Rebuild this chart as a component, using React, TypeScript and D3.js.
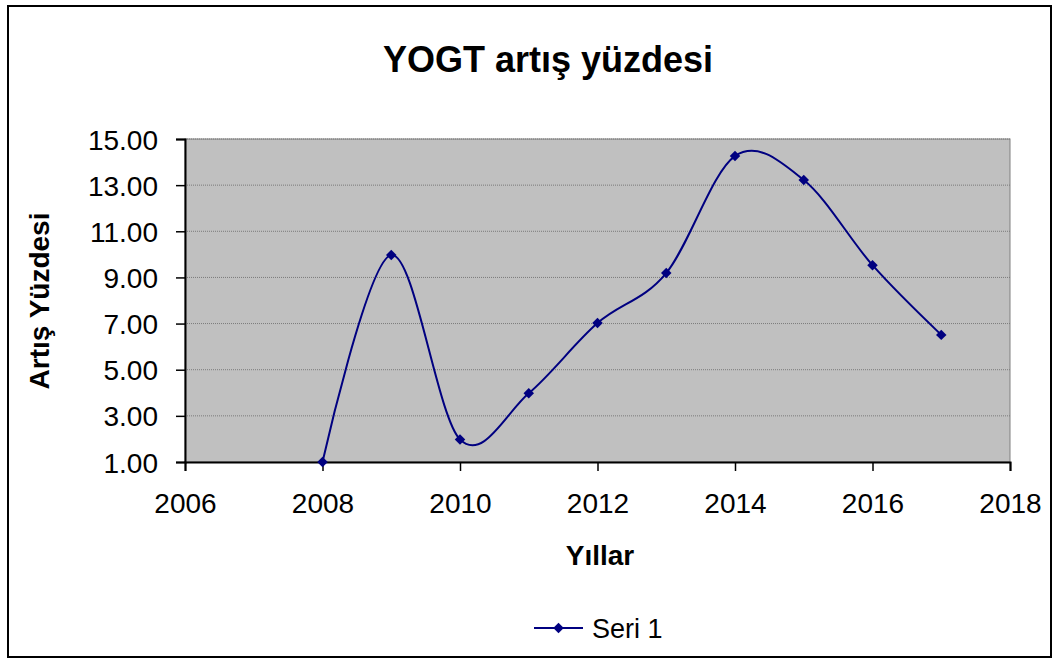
import React, { useEffect, useRef } from "react";
import * as d3 from "d3";

// Values
const years = [2008, 2009, 2010, 2011, 2012, 2013, 2014, 2015, 2016, 2017];
const seri1 = [1.0, 9.97, 1.98, 3.98, 7.02, 9.19, 14.26, 13.22, 9.53, 6.51];
const xTicks = [2006, 2008, 2010, 2012, 2014, 2016, 2018];
const yTicks = [1, 3, 5, 7, 9, 11, 13, 15];
const seriesName = "Seri 1";

const App: React.FC = () => {
  const ref = useRef<SVGSVGElement | null>(null);

  useEffect(() => {
    const svg = d3.select(ref.current);
    svg.selectAll("*").remove();

    const width = 1060,
      height = 660,
      margin = { top: 139, right: 50, bottom: 198, left: 185 };
    const font = "'Liberation Sans', Arial, sans-serif";
    const navy = "#000080";

    // outer frame
    svg
      .append("rect")
      .attr("x", 8)
      .attr("y", 6)
      .attr("width", 1043)
      .attr("height", 651)
      .attr("fill", "#fff")
      .attr("stroke", "#000")
      .attr("stroke-width", 2);

    const x = d3
      .scaleLinear()
      .domain([2006, 2018])
      .range([margin.left, width - margin.right]);

    const y = d3
      .scaleLinear()
      .domain([1, 15])
      .range([height - margin.bottom, margin.top]);

    // plot area
    svg
      .append("rect")
      .attr("x", x(2006))
      .attr("y", y(15))
      .attr("width", x(2018) - x(2006))
      .attr("height", y(1) - y(15))
      .attr("fill", "#c0c0c0")
      .attr("stroke", "#808080")
      .attr("stroke-width", 1);

    // gridlines
    svg
      .append("g")
      .selectAll("line")
      .data(yTicks.slice(1))
      .enter()
      .append("line")
      .attr("x1", x(2006))
      .attr("x2", x(2018))
      .attr("y1", (d) => y(d))
      .attr("y2", (d) => y(d))
      .attr("stroke", "#7a7a7a")
      .attr("stroke-width", 1)
      .attr("stroke-dasharray", "1,1");

    // axes
    const yAxis = svg
      .append("g")
      .attr("transform", `translate(${x(2006)},0)`)
      .call(
        d3
          .axisLeft(y)
          .tickValues(yTicks)
          .tickSize(9)
          .tickPadding(18)
          .tickFormat(d3.format(".2f"))
      );
    const xAxis = svg
      .append("g")
      .attr("transform", `translate(0,${y(1)})`)
      .call(
        d3
          .axisBottom(x)
          .tickValues(xTicks)
          .tickSize(9)
          .tickPadding(22)
          .tickFormat(d3.format("d"))
      );
    [xAxis, yAxis].forEach((g) => {
      g.attr("font-size", null);
      g.selectAll("text")
        .attr("font-family", font)
        .attr("font-size", 28)
        .attr("fill", "#000");
      g.selectAll("line").attr("stroke", "#000").attr("stroke-width", 1.5);
      g.select(".domain").attr("stroke", "#000").attr("stroke-width", 2);
    });
    yAxis.selectAll("text").attr("dy", "0.36em");

    // smoothed line
    const pts: [number, number][] = years.map((yr, i) => [x(yr), y(seri1[i])]);
    const line = d3.line().curve(d3.curveCardinal.tension(0));
    svg
      .append("path")
      .attr("d", line(pts))
      .attr("fill", "none")
      .attr("stroke", navy)
      .attr("stroke-width", 2);

    const diamond = d3.symbol().type(d3.symbolDiamond2).size(70);
    svg
      .append("g")
      .selectAll("path")
      .data(pts)
      .enter()
      .append("path")
      .attr("d", diamond())
      .attr("transform", (d) => `translate(${d[0]},${d[1]})`)
      .attr("fill", navy);

    // titles
    svg
      .append("text")
      .attr("x", 548)
      .attr("y", 72)
      .attr("text-anchor", "middle")
      .attr("font-family", font)
      .attr("font-weight", "bold")
      .attr("font-size", 36)
      .text("YOGT artış yüzdesi");

    svg
      .append("text")
      .attr("transform", `translate(49,301) rotate(-90)`)
      .attr("text-anchor", "middle")
      .attr("font-family", font)
      .attr("font-weight", "bold")
      .attr("font-size", 28)
      .text("Artış Yüzdesi");

    svg
      .append("text")
      .attr("x", 600)
      .attr("y", 565)
      .attr("text-anchor", "middle")
      .attr("font-family", font)
      .attr("font-weight", "bold")
      .attr("font-size", 28)
      .text("Yıllar");

    // legend
    const lg = svg.append("g").attr("transform", "translate(534,628)");
    lg.append("line")
      .attr("x1", 0)
      .attr("x2", 49)
      .attr("stroke", navy)
      .attr("stroke-width", 2);
    lg.append("path")
      .attr("d", diamond())
      .attr("transform", "translate(24.5,0)")
      .attr("fill", navy);
    lg.append("text")
      .attr("x", 58)
      .attr("dy", "0.36em")
      .attr("font-family", font)
      .attr("font-size", 27)
      .text(seriesName);
  }, []);

  return (
    <svg
      ref={ref}
      width={1060}
      height={660}
      style={{ position: "absolute", left: 0, top: 0, display: "block" }}
    ></svg>
  );
};

export default App;
